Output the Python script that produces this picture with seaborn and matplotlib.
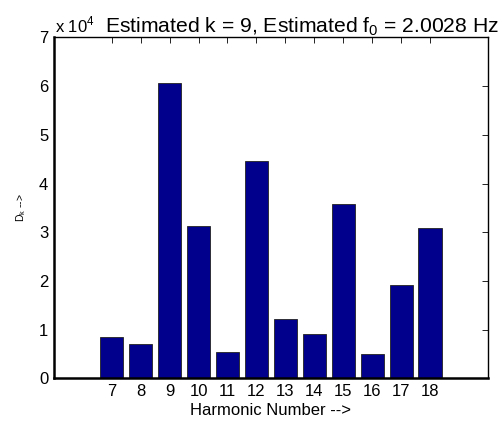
import numpy as np
import pandas as pd
import matplotlib
matplotlib.use("Agg")
import matplotlib.pyplot as plt
import seaborn as sns

# Datos
harmonic = [7, 8, 9, 10, 11, 12, 13, 14, 15, 16, 17, 18]
dk = [8400, 7100, 60600, 31200, 5400, 44700, 12200, 9100, 35800, 4900, 19100, 30800]
yticks = [0, 1, 2, 3, 4, 5, 6, 7]

sns.set_style("white")
plt.rcParams['font.family'] = ['Liberation Sans', 'DejaVu Sans']
plt.rcParams.update({'text.color': 'black', 'axes.labelcolor': 'black',
                     'xtick.color': 'black', 'ytick.color': 'black'})

df = pd.DataFrame({'k': harmonic, 'D': np.array(dk) / 1e4})

fig = plt.figure(figsize=(5.03, 4.26), dpi=100)
ax = fig.add_axes([0.107, 0.112, 0.863, 0.800])

sns.barplot(data=df, x='k', y='D', native_scale=True, width=0.8,
            color='#00008C', saturation=1, edgecolor='#222222', linewidth=0.6, ax=ax)

ax.set_xlim(5, 20)
ax.set_ylim(0, 7)
ax.set_xticks(harmonic)
ax.set_xticklabels([str(h) for h in harmonic], fontsize=12)
ax.set_yticks(yticks)
ax.set_yticklabels([str(t) for t in yticks], fontsize=12)
ax.tick_params(direction='in', length=4, width=0.6, top=True, right=True, pad=4)
for s in ax.spines.values():
    s.set_linewidth(1.0)
    s.set_color('black')
ax.spines['bottom'].set_linewidth(1.8)
ax.spines['left'].set_linewidth(1.8)

ax.set_xlabel('Harmonic Number -->', fontsize=12, labelpad=3)
ax.set_ylabel('D$_\\mathregular{k}$ -->', fontsize=7.5, labelpad=8)

fig.text(0.109, 0.924, 'x 10$^\\mathregular{4}$', fontsize=12, va='baseline', ha='left')
fig.text(0.209, 0.924, 'Estimated k = 9, Estimated f$_\\mathregular{0}$ = 2.0028 Hz',
         fontsize=15.2, va='baseline', ha='left')

fig.savefig('out.png', dpi=100, facecolor='white')
